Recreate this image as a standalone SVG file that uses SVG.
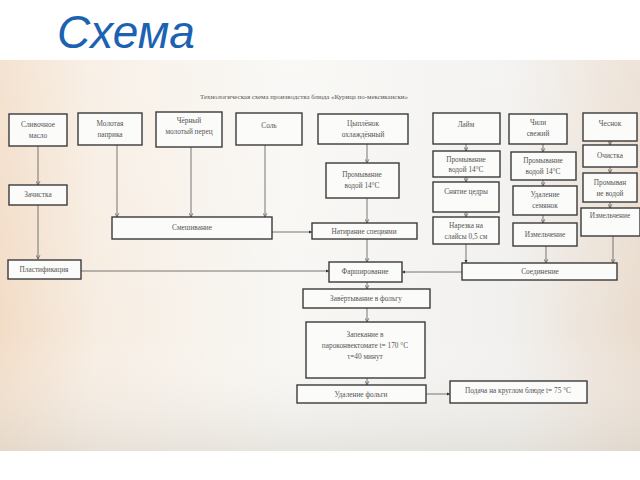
<svg xmlns="http://www.w3.org/2000/svg" width="640" height="480" viewBox="0 0 640 480">
<defs>
<linearGradient id="bg" x1="0" y1="0" x2="1" y2="0">
<stop offset="0" stop-color="#f2dcc6"/>
<stop offset="0.15" stop-color="#f7ede2"/>
<stop offset="0.45" stop-color="#f8f7f4"/>
<stop offset="0.8" stop-color="#f1f0ee"/>
<stop offset="1" stop-color="#eadcce"/>
</linearGradient>
<linearGradient id="vg" x1="0" y1="0" x2="0" y2="1">
<stop offset="0" stop-color="#ffffff" stop-opacity="0.2"/>
<stop offset="0.7" stop-color="#ffffff" stop-opacity="0"/>
<stop offset="1" stop-color="#d8d4cc" stop-opacity="0.5"/>
</linearGradient>
<marker id="ar" viewBox="0 0 8 8" refX="7" refY="4" markerWidth="5" markerHeight="5" orient="auto" markerUnits="userSpaceOnUse">
<path d="M1,1 L7,4 L1,7" fill="none" stroke="#555" stroke-width="1.2"/>
</marker>
<marker id="dt" viewBox="0 0 8 8" refX="7" refY="4" markerWidth="4" markerHeight="4" orient="auto" markerUnits="userSpaceOnUse">
<path d="M1,1 L7,4 L1,7 Z" fill="#333"/>
</marker>
</defs>
<style>
.b{fill:#fbfbfa;stroke:#3a3a3a;stroke-width:1.4}
.t{font-family:"Liberation Serif","DejaVu Serif",serif;font-size:7.3px;fill:#555;text-anchor:middle}
.c{fill:none;stroke:#666;stroke-width:0.9}
</style>
<rect x="0" y="0" width="640" height="480" fill="#ffffff"/>
<rect x="0" y="60" width="640" height="391" fill="url(#bg)"/>
<rect x="0" y="60" width="640" height="391" fill="url(#vg)"/>
<text x="57" y="48" font-family="Liberation Sans, Arial, sans-serif" font-style="italic" font-size="46" fill="#1c62b2">Схема</text>
<text x="304" y="99" class="t" style="font-size:6.9px">Технологическая схема производства блюда «Курица по-мексикански»</text>

<g id="connectors">
<path class="c" d="M38,146 V185" marker-end="url(#ar)"/>
<path class="c" d="M38,205 V259" marker-end="url(#ar)"/>
<path class="c" d="M117,145 V217" marker-end="url(#ar)"/>
<path class="c" d="M191,147 V217" marker-end="url(#ar)"/>
<path class="c" d="M265,145 V217" marker-end="url(#ar)"/>
<path class="c" d="M272,232 H312" marker-end="url(#dt)"/>
<path class="c" d="M81,271 H329" marker-end="url(#dt)"/>
<path class="c" d="M367,144 V163" marker-end="url(#ar)"/>
<path class="c" d="M367,198 V223" marker-end="url(#ar)"/>
<path class="c" d="M367,239 V262" marker-end="url(#ar)"/>
<path class="c" d="M367,282 V289" marker-end="url(#ar)"/>
<path class="c" d="M367,308 V322" marker-end="url(#ar)"/>
<path class="c" d="M367,378 V385" marker-end="url(#ar)"/>
<path class="c" d="M426,394 H450" marker-end="url(#dt)"/>
<path class="c" d="M462,272 H402" marker-end="url(#dt)"/>
<path class="c" d="M466,144 V151" marker-end="url(#ar)"/>
<path class="c" d="M466,177 V182" marker-end="url(#ar)"/>
<path class="c" d="M466,212 V217" marker-end="url(#ar)"/>
<path class="c" d="M466,244 V263" marker-end="url(#dt)"/>
<path class="c" d="M543,144 V152" marker-end="url(#ar)"/>
<path class="c" d="M543,180 V186" marker-end="url(#ar)"/>
<path class="c" d="M543,215 V223" marker-end="url(#ar)"/>
<path class="c" d="M546,246 V263" marker-end="url(#ar)"/>
<path class="c" d="M610,141 V145" marker-end="url(#ar)"/>
<path class="c" d="M610,167 V173" marker-end="url(#ar)"/>
<path class="c" d="M610,202 V208" marker-end="url(#ar)"/>
<path class="c" d="M613,236 V263" marker-end="url(#ar)"/>
</g>

<g id="maslo"><rect class="b" x="9" y="114" width="58" height="32"/><text class="t" x="38" y="127">Сливочное</text><text class="t" x="38" y="138">масло</text></g>
<g id="paprika"><rect class="b" x="78" y="113" width="64" height="32"/><text class="t" x="110" y="126">Молотая</text><text class="t" x="110" y="137">паприка</text></g>
<g id="perec"><rect class="b" x="156" y="112" width="66" height="35"/><text class="t" x="189" y="123">Чёрный</text><text class="t" x="189" y="134">молотый перец</text></g>
<g id="sol"><rect class="b" x="236" y="113" width="66" height="32"/><text class="t" x="269" y="128">Соль</text></g>
<g id="chicken"><rect class="b" x="318" y="114" width="90" height="30"/><text class="t" x="363" y="126">Цыплёнок</text><text class="t" x="363" y="137">охлаждённый</text></g>
<g id="laim"><rect class="b" x="433" y="113" width="67" height="31"/><text class="t" x="466" y="127">Лайм</text></g>
<g id="chili"><rect class="b" x="509" y="114" width="58" height="30"/><text class="t" x="538" y="125">Чили</text><text class="t" x="538" y="136">свежий</text></g>
<g id="chesnok"><rect class="b" x="583" y="113" width="54" height="28"/><text class="t" x="610" y="126">Чеснок</text></g>

<g id="zachistka"><rect class="b" x="9" y="185" width="58" height="20"/><text class="t" x="38" y="197">Зачистка</text></g>
<g id="promyv1"><rect class="b" x="326" y="163" width="73" height="35"/><text class="t" x="362" y="177">Промывание</text><text class="t" x="362" y="188">водой 14°С</text></g>
<g id="promyv2"><rect class="b" x="433" y="151" width="67" height="26"/><text class="t" x="466" y="162">Промывание</text><text class="t" x="466" y="172">водой 14°С</text></g>
<g id="cedra"><rect class="b" x="433" y="182" width="66" height="30"/><text class="t" x="466" y="194">Снятие цедры</text></g>
<g id="narezka"><rect class="b" x="433" y="217" width="66" height="27"/><text class="t" x="466" y="228">Нарезка на</text><text class="t" x="466" y="239">слайсы 0,5 см</text></g>
<g id="promyv3"><rect class="b" x="511" y="152" width="65" height="28"/><text class="t" x="543" y="163">Промывание</text><text class="t" x="543" y="174">водой 14°С</text></g>
<g id="semyan"><rect class="b" x="513" y="186" width="64" height="29"/><text class="t" x="545" y="197">Удаление</text><text class="t" x="545" y="208" fill="#7a4a4a">семянок</text></g>
<g id="izmel1"><rect class="b" x="513" y="223" width="64" height="23"/><text class="t" x="545" y="237">Измельчение</text></g>
<g id="ochistka"><rect class="b" x="583" y="145" width="54" height="22"/><text class="t" x="610" y="158">Очистка</text></g>
<g id="promyv4"><rect class="b" x="583" y="173" width="54" height="29"/><text class="t" x="610" y="185">Промыван</text><text class="t" x="610" y="196">ие водой</text></g>
<g id="izmel2"><rect class="b" x="581" y="208" width="59" height="28"/><text class="t" x="610" y="218">Измельчение</text></g>

<g id="smesh"><rect class="b" x="112" y="217" width="160" height="22"/><text class="t" x="192" y="230">Смешивание</text></g>
<g id="natiranie"><rect class="b" x="312" y="223" width="105" height="16"/><text class="t" x="364" y="234">Натирание специями</text></g>
<g id="plastif"><rect class="b" x="8" y="260" width="73" height="19"/><text class="t" x="44" y="272">Пластификация</text></g>
<g id="farsh"><rect class="b" x="329" y="262" width="73" height="20"/><text class="t" x="365" y="274" fill="#6a3a3a">Фарширование</text></g>
<g id="soed"><rect class="b" x="462" y="263" width="155" height="17"/><text class="t" x="540" y="274">Соединение</text></g>
<g id="zavert"><rect class="b" x="303" y="289" width="127" height="19"/><text class="t" x="366" y="301">Завёртывание в фольгу</text></g>
<g id="zapek"><rect class="b" x="306" y="322" width="119" height="56"/><text class="t" x="365" y="337">Запекание в</text><text class="t" x="365" y="348">пароконвектомате t= 170 °С</text><text class="t" x="365" y="359">τ=40 минут</text></g>
<g id="udal"><rect class="b" x="297" y="385" width="129" height="18"/><text class="t" x="361" y="397">Удаление фольги</text></g>
<g id="podacha"><rect class="b" x="450" y="381" width="137" height="22"/><text class="t" x="518" y="393">Подача на круглом блюде t=  75 °С</text></g>
</svg>
